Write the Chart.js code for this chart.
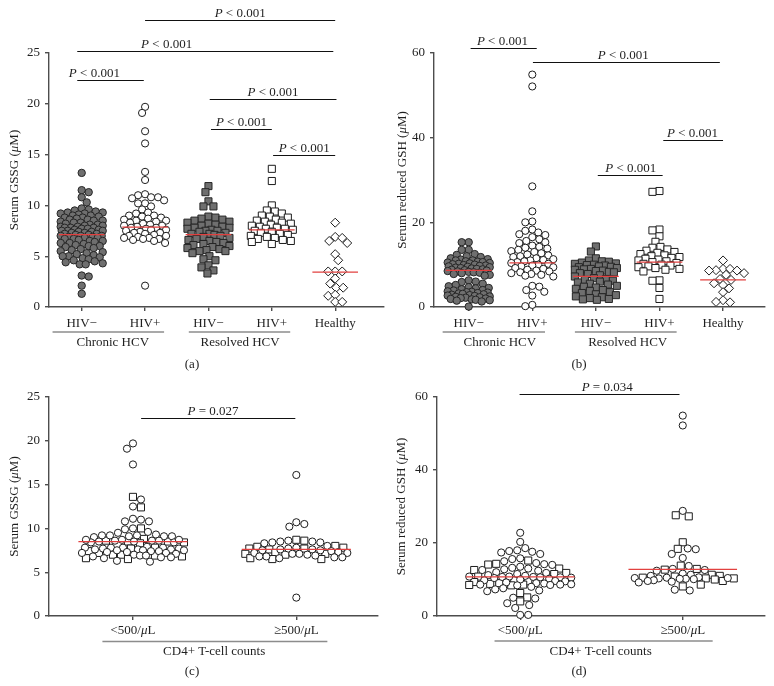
<!DOCTYPE html>
<html><head><meta charset="utf-8">
<script src="https://cdn.jsdelivr.net/npm/chart.js@4.4.1/dist/chart.umd.min.js"></script>
<style>
html,body{margin:0;padding:0;background:#fff;}
#wrap{position:relative;width:774px;height:686px;overflow:hidden;}
canvas{position:absolute;left:0;top:0;}
</style></head><body>
<div id="wrap">
<canvas id="ca" width="774" height="686"></canvas>
<canvas id="cb" width="774" height="686"></canvas>
<canvas id="cc" width="774" height="686"></canvas>
<canvas id="cd" width="774" height="686"></canvas>
</div>
<script>
// ---------- categories / labels ----------
const catsAB = ['HIV\u2212', 'HIV+', 'HIV\u2212', 'HIV+', 'Healthy'];
const catsCD = ['<500/\u03bcL', '\u2265500/\u03bcL'];
const ticksGSSG = [0, 5, 10, 15, 20, 25];
const ticksGSH = [0, 20, 40, 60];

// ---------- panel (a): serum GSSG (uM) ----------
const a_chronicNeg = [13.2, 11.5, 11.3, 10.8, 10.3, 9.7, 9.6, 9.5, 9.4, 9.3, 9.3, 9.2, 9.2, 9.1, 9.0, 9.0, 8.9, 8.8, 8.8, 8.7, 8.6, 8.6, 8.5, 8.5, 8.4, 8.3, 8.3, 8.2, 8.1, 8.1, 8.0, 8.0, 7.9, 7.9, 7.8, 7.8, 7.8, 7.7, 7.7, 7.6, 7.6, 7.5, 7.5, 7.5, 7.4, 7.4, 7.3, 7.3, 7.2, 7.2, 7.1, 7.1, 7.0, 7.0, 7.0, 6.9, 6.9, 6.8, 6.8, 6.7, 6.7, 6.6, 6.5, 6.5, 6.4, 6.3, 6.3, 6.2, 6.1, 6.0, 6.0, 5.9, 5.8, 5.7, 5.6, 5.5, 5.4, 5.3, 5.2, 5.1, 5.0, 5.0, 4.9, 4.8, 4.7, 4.6, 4.5, 4.4, 4.3, 4.2, 4.2, 3.1, 3.0, 2.1, 1.3];
const a_chronicPos = [19.7, 19.1, 17.3, 16.1, 13.3, 12.5, 11.1, 11.0, 10.8, 10.8, 10.7, 10.5, 10.2, 10.2, 9.9, 9.6, 9.3, 9.2, 9.0, 9.0, 8.9, 8.8, 8.7, 8.6, 8.5, 8.5, 8.4, 8.3, 8.2, 8.1, 8.0, 8.0, 7.9, 7.8, 7.8, 7.7, 7.6, 7.6, 7.5, 7.4, 7.3, 7.3, 7.2, 7.1, 7.0, 7.0, 6.9, 6.8, 6.8, 6.7, 6.7, 6.6, 6.5, 6.3, 2.1];
const a_resolvedNeg = [11.9, 11.3, 10.4, 9.9, 9.9, 8.9, 8.8, 8.7, 8.6, 8.5, 8.4, 8.3, 8.2, 8.1, 8.0, 7.9, 7.8, 7.8, 7.7, 7.6, 7.5, 7.5, 7.4, 7.3, 7.2, 7.2, 7.1, 7.0, 6.9, 6.8, 6.7, 6.6, 6.5, 6.4, 6.3, 6.2, 6.1, 6.0, 5.9, 5.8, 5.7, 5.6, 5.5, 5.5, 5.3, 5.0, 4.7, 4.6, 4.1, 3.9, 3.6, 3.3];
const a_resolvedPos = [13.6, 12.4, 10.0, 9.5, 9.4, 9.2, 9.0, 8.9, 8.8, 8.6, 8.5, 8.4, 8.3, 8.2, 8.1, 8.0, 7.9, 7.8, 7.7, 7.7, 7.6, 7.5, 7.4, 7.3, 7.2, 7.1, 7.0, 6.9, 6.8, 6.7, 6.6, 6.5, 6.4, 6.2];
const a_healthy = [8.3, 6.9, 6.8, 6.5, 6.3, 5.2, 4.6, 3.5, 3.5, 3.5, 2.8, 2.3, 1.9, 1.9, 1.1, 1.2, 0.5, 0.5];
const a_centre = [7.12, 7.87, 7.12, 7.6, 3.44];

// ---------- panel (b): serum reduced GSH (uM) ----------
const b_chronicNeg = [15.3, 15.3, 13.5, 13.5, 12.5, 12.3, 12.0, 11.8, 11.5, 11.3, 11.2, 11.0, 11.0, 10.8, 10.7, 10.6, 10.5, 10.4, 10.3, 10.2, 10.1, 10.0, 9.9, 9.8, 9.7, 9.6, 9.5, 9.4, 9.3, 9.2, 9.1, 9.0, 8.9, 8.8, 8.7, 8.6, 8.5, 8.4, 8.3, 8.2, 8.1, 8.0, 7.8, 7.6, 7.4, 6.3, 6.0, 5.9, 5.5, 5.2, 4.9, 4.7, 4.5, 4.4, 4.2, 4.0, 3.9, 3.7, 3.6, 3.5, 3.4, 3.3, 3.2, 3.1, 3.0, 2.9, 2.8, 2.7, 2.6, 2.5, 2.4, 2.3, 2.2, 2.1, 2.0, 1.9, 1.8, 1.7, 1.6, 1.5, 1.3, 0.1];
const b_chronicPos = [54.9, 52.1, 28.5, 22.6, 20.2, 20.0, 18.3, 18.0, 17.6, 17.2, 17.0, 16.5, 16.0, 15.6, 15.3, 15.1, 14.5, 14.2, 14.0, 13.8, 13.5, 13.2, 13.0, 12.7, 12.4, 12.2, 12.0, 11.8, 11.5, 11.3, 11.1, 11.0, 10.8, 10.6, 10.4, 10.2, 10.0, 9.8, 9.6, 9.4, 9.2, 9.0, 8.8, 8.6, 8.4, 8.2, 8.0, 7.8, 7.6, 7.4, 7.2, 5.0, 4.8, 4.0, 3.6, 2.7, 0.5, 0.2];
const b_resolvedNeg = [14.3, 13.1, 11.5, 11.0, 10.8, 10.7, 10.5, 10.3, 10.2, 10.0, 9.9, 9.8, 9.6, 9.5, 9.4, 9.2, 9.0, 8.9, 8.8, 8.6, 8.5, 8.3, 8.2, 8.0, 7.8, 7.5, 7.2, 6.8, 6.6, 6.4, 6.2, 6.0, 5.8, 5.5, 5.3, 5.0, 4.8, 4.6, 4.3, 4.0, 3.8, 3.5, 3.3, 3.0, 2.8, 2.5, 2.3, 2.1, 1.9, 1.8, 1.7];
const b_resolvedPos = [27.4, 27.2, 18.3, 18.1, 16.7, 15.4, 14.2, 14.0, 13.6, 13.3, 13.0, 12.8, 12.5, 12.2, 12.0, 11.8, 11.6, 11.4, 11.2, 11.0, 10.8, 10.6, 10.4, 10.2, 10.0, 9.8, 9.6, 9.4, 9.2, 9.0, 8.8, 8.4, 6.3, 6.2, 4.5, 1.9];
const b_healthy = [11.0, 9.0, 9.0, 8.7, 8.6, 8.6, 8.0, 7.6, 6.6, 6.4, 5.6, 5.2, 4.4, 3.5, 1.6, 1.1, 1.2];
const b_centre = [8.64, 10.4, 7.23, 10.6, 6.4];

// ---------- panel (c): GSSG by CD4+ count ----------
const c_lowCircles = [19.7, 19.1, 17.3, 13.3, 12.5, 11.1, 10.8, 10.8, 11.0, 9.9, 10.0, 9.5, 9.3, 9.2, 9.2, 9.1, 9.1, 9.1, 9.0, 9.2, 9.6, 8.7, 8.6, 8.6, 8.5, 8.4, 8.4, 8.5, 8.6, 8.7, 8.7, 7.9, 7.8, 7.8, 7.8, 7.8, 7.7, 7.7, 7.6, 7.6, 7.6, 7.5, 7.5, 7.5, 7.4, 7.4, 7.3, 7.3, 7.2, 7.2, 7.1, 7.0, 6.9, 6.9, 6.8, 6.7, 6.7, 6.6, 6.3, 6.2];
const c_lowSquares = [13.6, 12.4, 10.0, 8.8, 8.6, 8.5, 8.4, 8.5, 8.3, 7.8, 7.7, 7.4, 7.2, 7.0, 7.0, 6.9, 6.6, 6.5, 6.8];
const c_highCircles = [16.1, 10.7, 10.5, 10.2, 8.6, 8.5, 8.4, 8.4, 8.3, 8.5, 8.0, 7.8, 7.7, 7.6, 7.6, 7.5, 7.5, 7.4, 7.3, 7.2, 7.2, 7.1, 7.1, 7.0, 6.9, 6.8, 6.8, 6.7, 6.7, 6.6, 2.1];
const c_highSquares = [8.7, 8.6, 8.0, 7.9, 7.8, 7.7, 7.7, 7.6, 7.2, 7.1, 7.1, 7.0, 6.6, 6.5, 6.5];
const c_centre = [8.48, 7.6];

// ---------- panel (d): GSH by CD4+ count ----------
const d_lowCircles = [22.8, 20.3, 18.6, 18.0, 17.8, 17.4, 17.0, 17.6, 15.8, 15.6, 15.0, 14.5, 14.2, 14.0, 13.5, 13.2, 13.0, 12.8, 12.6, 12.4, 12.0, 11.8, 11.5, 11.2, 11.0, 10.8, 10.8, 10.7, 10.7, 10.6, 10.6, 10.5, 10.4, 10.2, 10.0, 9.8, 9.6, 9.5, 9.2, 9.0, 8.9, 8.7, 8.6, 8.6, 8.5, 8.4, 8.0, 7.6, 7.3, 7.0, 6.8, 5.0, 4.8, 3.5, 3.0, 2.2, 0.3, 0.3];
const d_lowSquares = [15.2, 14.3, 14.1, 13.0, 12.6, 11.8, 11.5, 10.8, 9.8, 9.5, 9.3, 9.0, 8.8, 8.6, 8.5, 8.4, 6.3, 5.1, 4.0];
const d_highCircles = [54.9, 52.2, 28.8, 18.5, 18.3, 17.0, 15.9, 13.7, 12.9, 12.6, 12.4, 11.6, 11.3, 11.0, 10.6, 10.5, 10.4, 10.4, 10.3, 10.2, 10.2, 10.1, 9.8, 9.6, 9.4, 9.2, 7.2, 7.0];
const d_highSquares = [27.6, 27.3, 20.2, 18.4, 13.8, 12.9, 12.7, 11.3, 11.0, 10.8, 10.5, 10.3, 10.3, 10.0, 9.6, 8.1, 8.6];
const d_centre = [10.7, 12.75];

// ---------- styling ----------
const FONT = '"Liberation Serif", "Times New Roman", serif';
const TXT = '#1f1f1f';
const AXIS = '#4d4d4d';
const styles = {
  grayCircle: {pointStyle: 'circle', radius: 3.7, bg: '#6f6f6f', border: '#262626'},
  openCircle: {pointStyle: 'circle', radius: 3.6, bg: '#ffffff', border: '#1c1c1c'},
  graySquare: {pointStyle: 'rect', radius: 5.0, bg: '#6f6f6f', border: '#262626'},
  openSquare: {pointStyle: 'rect', radius: 5.0, bg: '#ffffff', border: '#1c1c1c'},
  openDiamond: {pointStyle: 'rectRot', radius: 4.5, bg: '#ffffff', border: '#1c1c1c'}
};
const PLT = 'P < 0.001';

const panels = [
  {id: 'ca', area: {l: 49, t: 53, r: 384, b: 307}, xmin: -0.516, xmax: 4.77, ymax: 25, yticks: ticksGSSG,
   cats: catsAB, centre: a_centre, centreHalf: 0.36, swarmHalf: 21, swarmD: 6.6, catBase: 326.5,
   series: [[0, a_chronicNeg, 'grayCircle'], [1, a_chronicPos, 'openCircle'], [2, a_resolvedNeg, 'graySquare'], [3, a_resolvedPos, 'openSquare'], [4, a_healthy, 'openDiamond']],
   title: 'Serum GSSG (\u03bcM)', titleX: 15,
   sig: [{x0: 1, x1: 4, y: 28.2, tx: 2.5, t: PLT}, {x0: -0.07, x1: 3.97, y: 25.15, tx: 1.34, t: PLT}, {x0: -0.07, x1: 0.98, y: 22.37, tx: 0.2, t: PLT},
         {x0: 2.02, x1: 4.02, y: 20.5, tx: 3.02, t: PLT}, {x0: 2.04, x1: 3.0, y: 17.5, tx: 2.52, t: PLT}, {x0: 3.02, x1: 4.0, y: 14.96, tx: 3.51, t: PLT}],
   groups: [{x0: -0.46, x1: 1.3, tx: 0.49, t: 'Chronic HCV'}, {x0: 1.69, x1: 3.29, tx: 2.5, t: 'Resolved HCV'}], gLineY: 332, gTextY: 346,
   label: {t: '(a)', x: 192, y: 368}},
  {id: 'cb', area: {l: 434, t: 53, r: 765, b: 307}, xmin: -0.546, xmax: 4.66, ymax: 60, yticks: ticksGSH,
   cats: catsAB, centre: b_centre, centreHalf: 0.36, swarmHalf: 21, swarmD: 6.6, catBase: 326.5,
   series: [[0, b_chronicNeg, 'grayCircle'], [1, b_chronicPos, 'openCircle'], [2, b_resolvedNeg, 'graySquare'], [3, b_resolvedPos, 'openSquare'], [4, b_healthy, 'openDiamond']],
   title: 'Serum reduced GSH (\u03bcM)', titleX: 403,
   sig: [{x0: 0.03, x1: 1.07, y: 61.2, tx: 0.53, t: PLT}, {x0: 1.01, x1: 3.95, y: 57.9, tx: 2.43, t: PLT}, {x0: 3.06, x1: 4.0, y: 39.5, tx: 3.52, t: PLT}, {x0: 2.03, x1: 3.05, y: 31.25, tx: 2.55, t: PLT}],
   groups: [{x0: -0.41, x1: 1.2, tx: 0.49, t: 'Chronic HCV'}, {x0: 1.67, x1: 3.27, tx: 2.5, t: 'Resolved HCV'}], gLineY: 332, gTextY: 346,
   label: {t: '(b)', x: 579, y: 368}},
  {id: 'cc', area: {l: 49, t: 397, r: 378, b: 616}, xmin: -0.514, xmax: 1.5, ymax: 25, yticks: ticksGSSG,
   cats: catsCD, centre: c_centre, centreHalf: 0.334, swarmHalf: 51, swarmD: 7.8, catBase: 634,
   series: [[0, c_lowCircles, 'openCircle'], [0, c_lowSquares, 'openSquare'], [1, c_highCircles, 'openCircle'], [1, c_highSquares, 'openSquare']],
   title: 'Serum GSSG (\u03bcM)', titleX: 15,
   sig: [{x0: 0.05, x1: 0.994, y: 22.6, tx: 0.49, t: 'P = 0.027'}],
   groups: [{x0: -0.187, x1: 1.19, tx: 0.497, t: 'CD4+ T-cell counts'}], gLineY: 641.5, gTextY: 655,
   label: {t: '(c)', x: 192, y: 675}},
  {id: 'cd', area: {l: 437, t: 397, r: 765, b: 616}, xmin: -0.512, xmax: 1.506, ymax: 60, yticks: ticksGSH,
   cats: catsCD, centre: d_centre, centreHalf: 0.334, swarmHalf: 51, swarmD: 7.8, catBase: 634,
   series: [[0, d_lowCircles, 'openCircle'], [0, d_lowSquares, 'openSquare'], [1, d_highCircles, 'openCircle'], [1, d_highSquares, 'openSquare']],
   title: 'Serum reduced GSH (\u03bcM)', titleX: 402,
   sig: [{x0: -0.004, x1: 0.98, y: 60.9, tx: 0.535, t: 'P = 0.034'}],
   groups: [{x0: -0.158, x1: 1.184, tx: 0.495, t: 'CD4+ T-cell counts'}], gLineY: 641, gTextY: 655,
   label: {t: '(d)', x: 579, y: 675}}
];

// rich text: italic for mu and a leading P
function segs(str) {
  const out = [];
  for (let i = 0; i < str.length; i++) {
    const ch = str[i];
    const it = ch === '\u03bc' || (ch === 'P' && i === 0);
    if (out.length && out[out.length - 1].it === it) out[out.length - 1].t += ch;
    else out.push({t: ch, it});
  }
  return out;
}
function drawRich(ctx, str, x, y, size, align) {
  const s = segs(str);
  let w = 0;
  s.forEach(p => { ctx.font = (p.it ? 'italic ' : '') + size + 'px ' + FONT; p.w = ctx.measureText(p.t).width; w += p.w; });
  let cx = align === 'center' ? x - w / 2 : (align === 'right' ? x - w : x);
  ctx.textAlign = 'left';
  s.forEach(p => { ctx.font = (p.it ? 'italic ' : '') + size + 'px ' + FONT; ctx.fillText(p.t, cx, y); cx += p.w; });
}

function makeAnnot(p) {
  return {
    id: 'annot',
    afterDatasetsDraw(chart) {
      const ctx = chart.ctx, xs = chart.scales.x, ys = chart.scales.y;
      ctx.save();
      ctx.strokeStyle = '#e2403f'; ctx.lineWidth = 1.3;
      p.centre.forEach((v, i) => {
        const y = ys.getPixelForValue(v);
        ctx.beginPath();
        ctx.moveTo(xs.getPixelForValue(i - p.centreHalf), y);
        ctx.lineTo(xs.getPixelForValue(i + p.centreHalf), y);
        ctx.stroke();
      });
      ctx.fillStyle = TXT;
      ctx.textBaseline = 'alphabetic';
      ctx.strokeStyle = '#111'; ctx.lineWidth = 1;
      p.sig.forEach(s => {
        const y = Math.round(ys.getPixelForValue(s.y)) + 0.5;
        ctx.beginPath();
        ctx.moveTo(xs.getPixelForValue(s.x0), y);
        ctx.lineTo(xs.getPixelForValue(s.x1), y);
        ctx.stroke();
        drawRich(ctx, s.t, xs.getPixelForValue(s.tx), y - 4, 13, 'center');
      });
      p.cats.forEach((c, i) => drawRich(ctx, c, xs.getPixelForValue(i), p.catBase, 13, 'center'));
      ctx.strokeStyle = '#8c8c8c'; ctx.lineWidth = 1.4;
      p.groups.forEach(g => {
        ctx.beginPath();
        ctx.moveTo(xs.getPixelForValue(g.x0), p.gLineY);
        ctx.lineTo(xs.getPixelForValue(g.x1), p.gLineY);
        ctx.stroke();
        drawRich(ctx, g.t, xs.getPixelForValue(g.tx), p.gTextY, 13, 'center');
      });
      ctx.save();
      ctx.translate(p.titleX, (p.area.t + p.area.b) / 2);
      ctx.rotate(-Math.PI / 2);
      ctx.textBaseline = 'middle';
      drawRich(ctx, p.title, 0, 0, 13, 'center');
      ctx.restore();
      drawRich(ctx, p.label.t, p.label.x, p.label.y, 13, 'center');
      ctx.restore();
    }
  };
}

// beeswarm: each point goes to the nearest free horizontal offset (pixels)
function swarm(items, D, H) {
  const placed = [];
  items.forEach((it, n) => {
    const sgn = n % 2 ? -1 : 1;
    let best = 0, bestScore = -1;
    for (let m = 0; m <= 2 * H; m++) {
      const off = m === 0 ? 0 : sgn * (m % 2 ? 1 : -1) * Math.ceil(m / 2);
      if (Math.abs(off) > H) continue;
      let minD = Infinity;
      for (const q of placed) {
        const dy = q.py - it.py;
        if (Math.abs(dy) < D) { const dd = Math.hypot(q.off - off, dy); if (dd < minD) minD = dd; }
      }
      if (minD >= D) { best = off; bestScore = Infinity; break; }
      if (minD > bestScore) { bestScore = minD; best = off; }
    }
    it.off = best;
    placed.push(it);
  });
}

const YW = 40, XH = 30;
panels.forEach(p => {
  const datasets = p.series.map(([cat, vals, st]) => {
    const s = styles[st];
    return {
      data: vals.map(v => ({x: cat, y: v})),
      pointStyle: s.pointStyle, pointRadius: s.radius, pointBackgroundColor: s.bg,
      pointBorderColor: s.border, pointBorderWidth: 1, showLine: false, clip: false
    };
  });
  const gridOpt = {display: true, drawOnChartArea: false, drawTicks: true, tickLength: 4, color: AXIS, lineWidth: 1.4};
  const chart = new Chart(document.getElementById(p.id), {
    type: 'scatter',
    data: {datasets},
    options: {
      responsive: false, animation: false, events: [],
      layout: {padding: {left: p.area.l - YW, top: p.area.t, right: 774 - p.area.r, bottom: 686 - p.area.b - XH}},
      plugins: {legend: {display: false}, tooltip: {enabled: false}},
      scales: {
        x: {type: 'linear', min: p.xmin, max: p.xmax,
            afterBuildTicks: s => { s.ticks = p.cats.map((c, i) => ({value: i})); },
            afterFit: s => { s.height = XH; },
            ticks: {display: false}, grid: gridOpt, border: {display: true, color: AXIS, width: 1.4}},
        y: {type: 'linear', min: 0, max: p.ymax,
            afterBuildTicks: s => { s.ticks = p.yticks.map(v => ({value: v})); },
            afterFit: s => { s.width = YW; },
            ticks: {padding: 5, color: TXT, font: {family: FONT, size: 13}},
            grid: gridOpt, border: {display: true, color: AXIS, width: 1.4}}
      }
    },
    plugins: [makeAnnot(p)]
  });
  const xs = chart.scales.x, ys = chart.scales.y;
  const ppu = xs.getPixelForValue(1) - xs.getPixelForValue(0);
  p.cats.forEach((c, ci) => {
    const items = [];
    p.series.forEach(([cat, vals], di) => { if (cat === ci) vals.forEach((v, i) => items.push({di, i, py: ys.getPixelForValue(v)})); });
    items.sort((a, b) => a.py - b.py || a.di - b.di);
    swarm(items, p.swarmD, p.swarmHalf);
    items.forEach(it => { chart.data.datasets[it.di].data[it.i].x = ci + it.off / ppu; });
  });
  chart.update('none');
});
</script>
</body></html>
